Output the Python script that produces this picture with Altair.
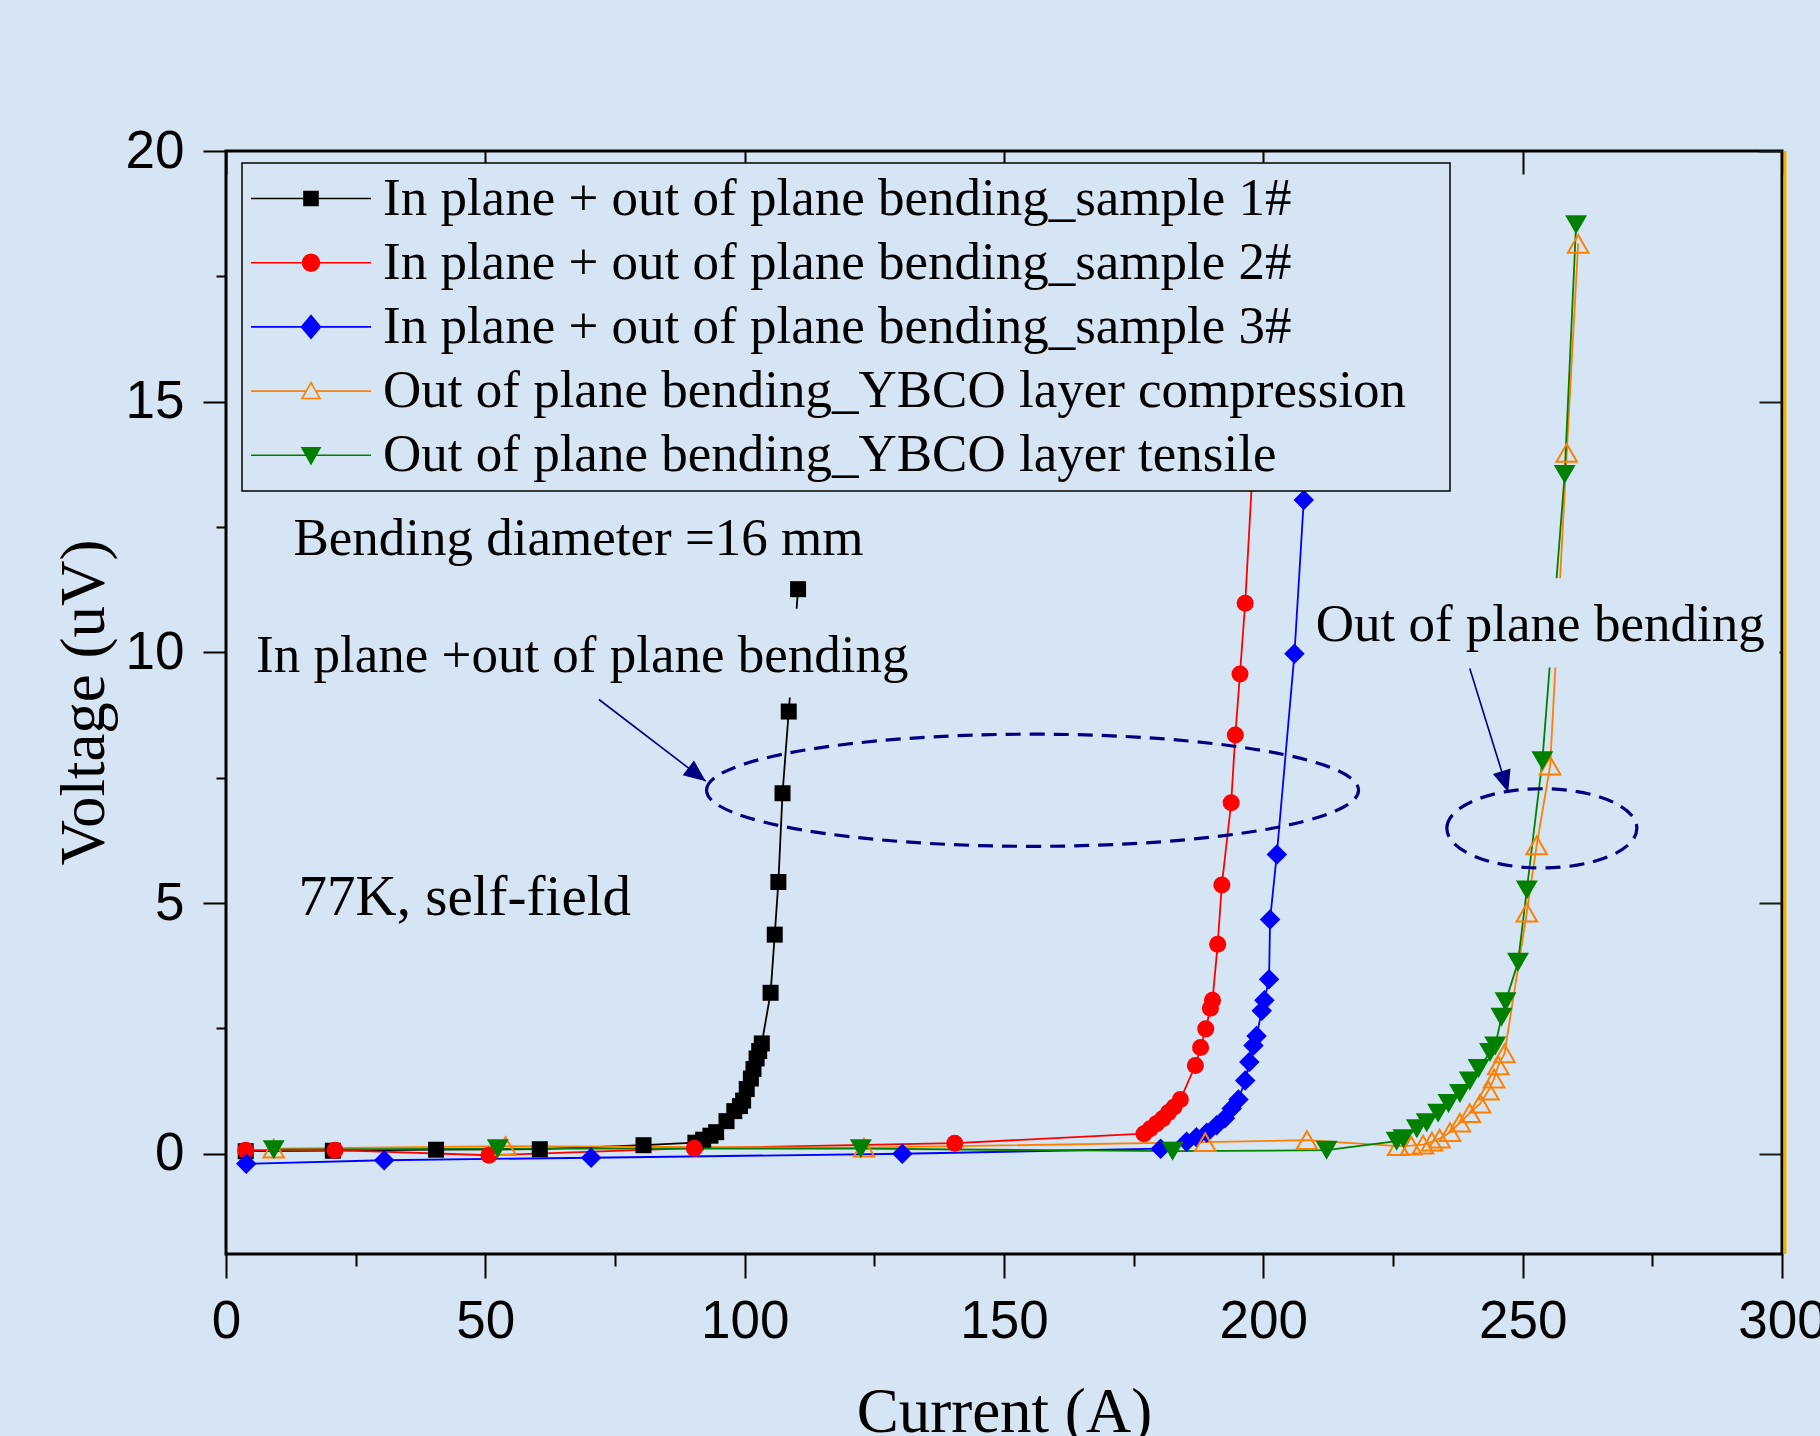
import altair as alt
import pandas as pd

BG = "#d6e5f3"
NAVY = "#000080"

series_names = [
    "In plane + out of plane bending_sample 1#",
    "In plane + out of plane bending_sample 2#",
    "In plane + out of plane bending_sample 3#",
    "Out of plane bending_YBCO layer compression",
    "Out of plane bending_YBCO layer tensile",
]
series_colors = ["#000000", "#ff0000", "#0000ff", "#ff8000", "#008000"]
series_fill = ["#000000", "#ff0000", "#0000ff", BG, "#008000"]

s1_x = [3.8, 20.6, 40.5, 60.5, 80.5, 90.5, 92.0, 93.4, 94.5, 96.5, 98.0, 99.1, 99.7, 100.4,
        101.2, 101.7, 102.3, 102.8, 103.3, 105.0, 105.8, 106.5, 107.3, 108.5, 110.3]
s1_y = [0.05, 0.06, 0.08, 0.09, 0.17, 0.22, 0.28, 0.36, 0.43, 0.65, 0.85, 0.95, 1.06, 1.29,
        1.50, 1.69, 1.90, 2.05, 2.20, 3.21, 4.37, 5.42, 7.19, 8.82, 11.26]

s2_x = [3.8, 21.0, 50.7, 90.3, 140.5, 177.0, 178.2, 179.4, 180.6, 181.7, 182.8, 184.0, 186.9,
        187.9, 188.9, 189.8, 190.2, 191.2, 192.0, 193.8, 194.6, 195.5, 196.5, 199.2]
s2_y = [0.07, 0.07, -0.03, 0.11, 0.21, 0.40, 0.50, 0.60, 0.70, 0.82, 0.93, 1.08, 1.76,
        2.12, 2.49, 2.90, 3.06, 4.18, 5.36, 7.00, 8.35, 9.57, 10.98, 16.0]

s3_x = [3.9, 30.5, 70.4, 130.4, 180.2, 185.2, 187.1, 189.1, 191.0, 192.6, 193.9, 195.2, 196.5,
        197.3, 198.1, 198.7, 199.7, 200.2, 201.1, 201.3, 202.6, 206.0, 207.8, 209.5]
s3_y = [-0.20, -0.13, -0.08, 0.00, 0.10, 0.24, 0.33, 0.42, 0.57, 0.71, 0.90, 1.08, 1.46,
        1.83, 2.16, 2.35, 2.85, 3.06, 3.48, 4.67, 5.97, 9.97, 13.04, 16.0]

s4_x = [9.2, 53.9, 123.0, 188.8, 208.4, 226.0, 228.5, 230.8, 232.5, 234.0, 236.0, 237.9, 239.8,
        241.8, 243.4, 244.5, 245.3, 246.5, 250.8, 252.7, 255.3, 258.5, 260.7]
s4_y = [0.10, 0.15, 0.12, 0.23, 0.27, 0.15, 0.16, 0.18, 0.24, 0.30, 0.43, 0.62, 0.81,
        1.00, 1.26, 1.50, 1.76, 2.00, 4.81, 6.15, 7.74, 13.98, 18.15]

s5_x = [9.2, 52.4, 122.4, 182.5, 212.2, 225.7, 227.0, 229.6, 231.5, 233.7, 235.7, 237.9, 239.8,
        241.5, 243.7, 244.7, 245.9, 246.7, 249.1, 250.8, 253.8, 258.1, 260.3]
s5_y = [0.08, 0.10, 0.10, 0.05, 0.07, 0.25, 0.30, 0.50, 0.62, 0.81, 1.00, 1.20, 1.45,
        1.70, 2.02, 2.15, 2.72, 3.03, 3.82, 5.26, 7.84, 13.55, 18.53]

ann_text = ["Bending diameter =16 mm", "In plane +out of plane bending",
            "77K, self-field", "Out of plane bending"]
ann_x = [13.0, 5.8, 14.0, 210.1]
ann_y = [11.95, 9.6, 4.76, 10.22]
ann_size = [53, 53, 57, 53]

# opaque boxes behind two annotations (they hide the curves, as in the original)
box_x = [4.0, 208.5]
box_x2 = [134.0, 299.5]
box_y = [9.1, 9.7]
box_y2 = [10.87, 11.48]

ell_x = [155.5, 253.7]
ell_y = [7.25, 6.49]

arrow_id = ["a1", "a1", "a2", "a2"]
arrow_x = [71.9, 92.5, 239.8, 247.2]
arrow_y = [9.06, 7.43, 9.68, 7.21]
arrow_head_angle = [37.5, 73.0]

x_ticks = [0, 25, 50, 75, 100, 125, 150, 175, 200, 225, 250, 275, 300]
x_major = [0, 50, 100, 150, 200, 250, 300]
y_ticks = [0, 2.5, 5, 7.5, 10, 12.5, 15, 17.5, 20]
y_major = [0, 5, 10, 15, 20]

# ---------------------------------------------------------------- tables
all_x = [s1_x, s2_x, s3_x, s4_x, s5_x]
all_y = [s1_y, s2_y, s3_y, s4_y, s5_y]
rows = []
for name, xs_, ys_ in zip(series_names, all_x, all_y):
    for i, (a, v) in enumerate(zip(xs_, ys_)):
        rows.append({"series": name, "current": a, "voltage": v, "order": i})
df = pd.DataFrame(rows)

ann_df = pd.DataFrame({"x": ann_x, "y": ann_y, "text": ann_text, "fs": ann_size})
box_df = pd.DataFrame({"x": box_x, "x2": box_x2, "y": box_y, "y2": box_y2})
arrow_df = pd.DataFrame({"id": arrow_id, "x": arrow_x, "y": arrow_y, "o": [0, 1, 0, 1]})
head_df = pd.DataFrame({"x": [arrow_x[1], arrow_x[3]], "y": [arrow_y[1], arrow_y[3]],
                        "ang": arrow_head_angle})
edge_df = pd.DataFrame({"edge": [x_ticks[-1]]})

xs = alt.Scale(domain=[0, 300], nice=False, zero=False)
ys = alt.Scale(domain=[-2, 20], nice=False, zero=False)
cscale = alt.Scale(domain=series_names, range=series_colors)
fscale = alt.Scale(domain=series_names, range=series_fill)

# legend symbols: a 120 px line with the marker in its middle (unit = 26.5 px)
legend_paths = [
    "M-2.264,0L2.264,0M-0.264,-0.264L0.264,-0.264L0.264,0.264L-0.264,0.264Z",
    "M-2.264,0L2.264,0M0.32,0A0.32,0.32,0,1,1,-0.32,0A0.32,0.32,0,1,1,0.32,0Z",
    "M-2.264,0L2.264,0M0,-0.43L0.36,0L0,0.43L-0.36,0Z",
    "M-2.264,0L-0.18,0M0.18,0L2.264,0M0,-0.32L0.34,0.28L-0.34,0.28Z",
    "M-2.264,0L2.264,0M-0.34,-0.28L0.34,-0.28L0,0.32Z",
]
shape_scale = alt.Scale(domain=series_names, range=legend_paths)

bottom_axis = alt.Axis(
    orient="bottom", values=x_ticks, domain=False, grid=False,
    labelExpr="datum.value % 50 === 0 ? datum.label : ''",
    tickSize={"condition": {"test": "datum.value % 50 === 0", "value": 24}, "value": 12},
    tickWidth=2, tickColor="black",
    labelFont="Liberation Sans", labelFontSize=53, labelColor="black",
    labelPadding=17, labelFlush=False, labelOverlap=False,
    title="Current (A)", titleFont="Liberation Serif", titleFontSize=63,
    titleFontWeight="normal", titleColor="black", titleY=177, titleBaseline="alphabetic",
)
left_axis = alt.Axis(
    orient="left", values=y_ticks, domain=False, grid=False,
    labelExpr="datum.value % 5 === 0 ? datum.label : ''",
    tickSize={"condition": {"test": "datum.value % 5 === 0", "value": 23}, "value": 10},
    tickWidth=2, tickColor="black",
    labelFont="Liberation Sans", labelFontSize=53, labelColor="black",
    labelPadding=19, labelFlush=False, labelOverlap=False,
    title="Voltage (uV)", titleFont="Liberation Serif", titleFontSize=63,
    titleFontWeight="normal", titleColor="black", titleX=-142, titleY=551,
    titleAngle=270, titleAlign="center", titleBaseline="middle",
)
top_axis = alt.Axis(orient="top", values=x_major, domain=False, grid=False, labels=False,
                    offset=-23, tickSize=23, tickWidth=2, tickColor="black", title=None)
right_axis = alt.Axis(orient="right", values=y_major, domain=False, grid=False, labels=False,
                      offset=-23, tickSize=23, tickWidth=2, tickColor="#1a1a1a", title=None)

X = lambda ax=None: alt.X("current:Q", scale=xs, axis=ax)
Y = lambda ax=None: alt.Y("voltage:Q", scale=ys, axis=ax)

line_layers = []
for k, (name, col) in enumerate(zip(series_names, series_colors)):
    line_layers.append(
        alt.Chart(df[df["series"] == name]).mark_line(strokeWidth=1.8, color=col).encode(
            x=X(bottom_axis if k == 0 else None), y=Y(left_axis if k == 0 else None),
            order="order:Q",
        )
    )

boxes = alt.Chart(box_df).mark_rect(color=BG).encode(
    x=alt.X("x:Q", scale=xs, axis=None), x2="x2:Q",
    y=alt.Y("y:Q", scale=ys, axis=None), y2="y2:Q",
)

marker_specs = [
    dict(shape="square", size=256, filled=True),
    dict(shape="circle", size=290, filled=True),
    dict(shape="diamond", size=420, filled=True),
    dict(shape="triangle-up", size=420, filled=False, strokeWidth=2),
    dict(shape="triangle-down", size=480, filled=True),
]
point_layers = []
for name, col, spec in zip(series_names, series_colors, marker_specs):
    point_layers.append(
        alt.Chart(df[df["series"] == name]).mark_point(color=col, opacity=1, **spec).encode(
            x=X(), y=Y()
        )
    )

ellipse_paths = [
    "M-1,0A1,0.172,0,1,1,1,0A1,0.172,0,1,1,-1,0Z",
    "M-1,0A1,0.417,0,1,1,1,0A1,0.417,0,1,1,-1,0Z",
]
ellipse_sizes = [652 ** 2, 190 ** 2]
ellipse_layers = []
for ex, ey, p, s in zip(ell_x, ell_y, ellipse_paths, ellipse_sizes):
    ellipse_layers.append(
        alt.Chart(pd.DataFrame({"x": [ex], "y": [ey]})).mark_point(
            shape=p, size=s, filled=False, color=NAVY, strokeWidth=3.2, strokeDash=[15, 9], opacity=1
        ).encode(x=alt.X("x:Q", scale=xs, axis=None), y=alt.Y("y:Q", scale=ys, axis=None))
    )

arrow_lines = alt.Chart(arrow_df).mark_line(color=NAVY, strokeWidth=1.6).encode(
    x=alt.X("x:Q", scale=xs, axis=None), y=alt.Y("y:Q", scale=ys, axis=None),
    detail="id:N", order="o:Q",
)
arrow_heads = alt.Chart(head_df).mark_point(
    shape="M0,0L-1,-0.42L-1,0.42Z", size=1936, filled=True, color=NAVY, opacity=1
).encode(
    x=alt.X("x:Q", scale=xs, axis=None), y=alt.Y("y:Q", scale=ys, axis=None),
    angle=alt.Angle("ang:Q", scale=None),
)

texts = alt.Chart(ann_df).mark_text(
    align="left", baseline="alphabetic", font="Liberation Serif", color="black"
).encode(
    x=alt.X("x:Q", scale=xs, axis=None), y=alt.Y("y:Q", scale=ys, axis=None),
    text="text:N", size=alt.Size("fs:Q", scale=None),
)

leg = alt.Legend(
    title=".", titleOrient="right", titleColor=BG, titleOpacity=0, titleFontSize=10,
    titlePadding=33,
    orient="none", legendX=16, legendY=12, direction="vertical",
    labelFont="Liberation Serif", labelFontSize=53, labelColor="black", labelLimit=3000,
    symbolSize=2809, symbolStrokeWidth=1.6, symbolOffset=33.5, labelOffset=44.5,
    rowPadding=9.2, padding=8,
    strokeColor="black", fillColor=BG, symbolOpacity=1,
)
legend_layer = alt.Chart(df).mark_point(opacity=0, filled=False, strokeWidth=1.6).encode(
    x=X(), y=Y(),
    stroke=alt.Stroke("series:N", scale=cscale, legend=leg),
    fill=alt.Fill("series:N", scale=fscale, legend=leg),
    shape=alt.Shape("series:N", scale=shape_scale, legend=leg),
)

axis_layer = alt.Chart(df).mark_point(opacity=0).encode(x=X(top_axis), y=Y(right_axis))

right_edge = alt.Chart(edge_df).mark_rule(color="#f0b400", strokeWidth=3, xOffset=3).encode(
    x=alt.X("edge:Q", scale=xs, axis=None)
)

chart = alt.layer(
    *line_layers, boxes, *point_layers, *ellipse_layers, arrow_lines, arrow_heads, texts,
    legend_layer, axis_layer, right_edge,
).resolve_axis(x="independent", y="independent").properties(
    width=1556, height=1103,
    autosize=alt.AutoSizeParams(type="none"),
    padding={"left": 226, "top": 151, "right": 38, "bottom": 182},
    background=BG,
).configure_view(stroke="black", strokeWidth=3).configure_legend(
    strokeWidth=1.5
)

chart.save("out.html", embed_options={"renderer": "svg", "actions": False})
